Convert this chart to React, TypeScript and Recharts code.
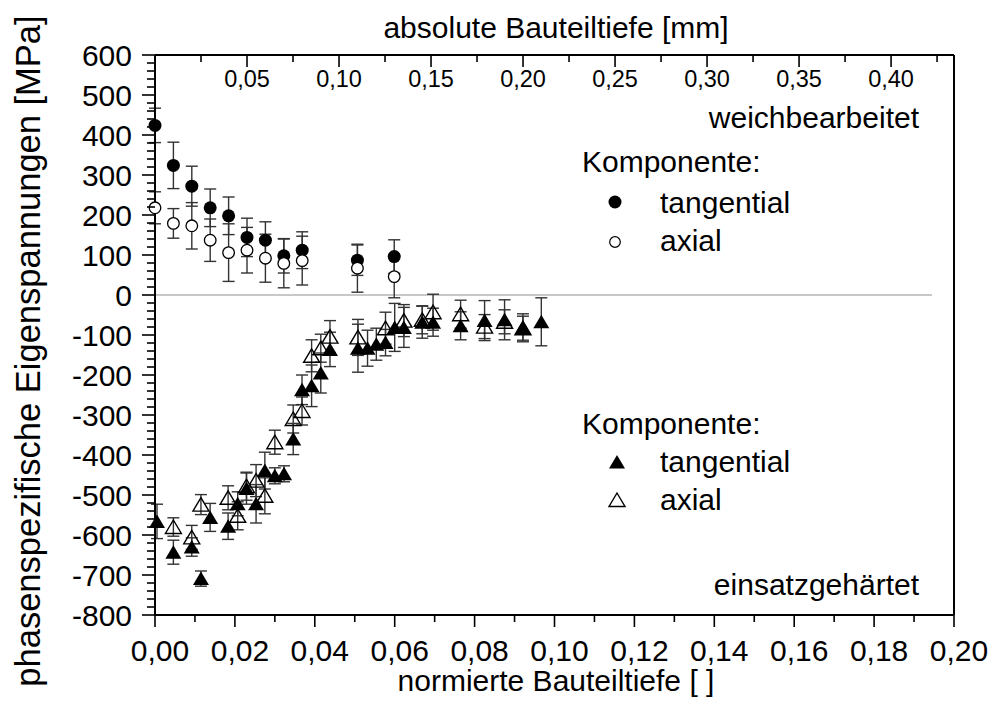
import React from "react";
import { ScatterChart, Scatter, XAxis, YAxis, ErrorBar, ReferenceLine } from "recharts";

const FONT = "'Liberation Sans', Arial, sans-serif";

// weichbearbeitet (Kreise) – x in mm, obere Achse
const softDepthMm = [0, 0.01, 0.02, 0.03, 0.04, 0.05, 0.06, 0.07, 0.08, 0.11, 0.13];
const softTang = [424, 324, 272, 218, 198, 144, 137, 98, 112, 87, 96];
const softTangErr = [43, 58, 50, 47, 47, 48, 46, 43, 46, 38, 42];
const softAxial = [218, 179, 173, 137, 106, 112, 92, 79, 86, 67, 46];
const softAxialErr = [40, 37, 58, 53, 72, 57, 60, 61, 61, 60, 53];

// einsatzgehärtet (Dreiecke) – normierte Tiefe, untere Achse
const hardTangDepth = [
  0.0005, 0.0046, 0.0092, 0.0115, 0.0138, 0.0183, 0.0207, 0.0229, 0.0253, 0.0275,
  0.03, 0.0323, 0.0346, 0.0368, 0.0392, 0.0415, 0.0438, 0.0508, 0.0532, 0.0554,
  0.0577, 0.06, 0.0623, 0.0669, 0.0696, 0.0765, 0.0825, 0.0875, 0.0921, 0.0967,
];
const hardTang = [
  -566, -643, -630, -709, -556, -578, -522, -484, -522, -439,
  -452, -447, -360, -237, -227, -195, -136, -133, -133, -123,
  -119, -81, -81, -68, -68, -77, -64, -62, -82, -67,
];
const hardTangErr = [
  43, 30, 23, 19, 35, 33, 30, 39, 48, 46,
  20, 20, 39, 37, 52, 50, 43, 60, 45, 40,
  33, 60, 50, 40, 35, 35, 50, 50, 35, 60,
];
const hardAxialDepth = [
  0.0046, 0.0092, 0.0115, 0.0183, 0.0207, 0.0229, 0.0253, 0.0275, 0.03, 0.0346,
  0.0368, 0.0392, 0.0415, 0.0438, 0.0508, 0.0577, 0.0623, 0.0669, 0.0696, 0.0765,
  0.0825, 0.0875, 0.0921,
];
const hardAxial = [
  -580, -606, -524, -507, -552, -478, -464, -502, -368, -310,
  -290, -152, -133, -104, -106, -83, -64, -62, -43, -48,
  -79, -67, -83,
];
const hardAxialErr = [
  23, 30, 25, 30, 35, 35, 40, 45, 30, 35,
  35, 40, 35, 40, 45, 40, 40, 35, 45, 35,
  30, 30, 30,
];

// Achsen
const yMajor = [-800, -700, -600, -500, -400, -300, -200, -100, 0, 100, 200, 300, 400, 500, 600];
const xMajor = [0, 0.02, 0.04, 0.06, 0.08, 0.1, 0.12, 0.14, 0.16, 0.18, 0.2];
const mmMajor = [0, 0.05, 0.1, 0.15, 0.2, 0.25, 0.3, 0.35, 0.4];
const mmMax = 0.4342;
const zeroLineEnd = 0.1945;

// majors plus n-1 minor ticks between each pair
const withMinor = (major: number[], n: number) => {
  const out: number[] = [];
  major.forEach((v, i) => {
    out.push(v);
    if (i < major.length - 1) {
      const step = (major[i + 1] - v) / n;
      for (let k = 1; k < n; k++) out.push(+(v + k * step).toFixed(6));
    }
  });
  return out;
};
const yTicks = withMinor(yMajor, 5);
const xTicks = withMinor(xMajor, 2);
const mmTicks = [...withMinor(mmMajor, 2), 0.425];

const zip = (xs: number[], ys: number[], es: number[]) => xs.map((x, i) => ({ x, y: ys[i], err: es[i] }));
const softTangData = zip(softDepthMm, softTang, softTangErr);
const softAxialData = zip(softDepthMm, softAxial, softAxialErr);
const hardTangData = zip(hardTangDepth, hardTang, hardTangErr);
const hardAxialData = zip(hardAxialDepth, hardAxial, hardAxialErr);

const isMult = (v: number, step: number) => Math.abs(v / step - Math.round(v / step)) < 1e-6;
const comma = (v: number) => v.toFixed(2).replace(".", ",");

const LeftTick = ({ x, y, payload }: any) => {
  const major = isMult(payload.value, 100);
  return (
    <g>
      <line x1={x - (major ? 13 : 8)} x2={x} y1={y} y2={y} stroke="#000" strokeWidth={1.6} />
      {major && (
        <text x={x - 23} y={y} dy={10.5} textAnchor="end" fontSize={30} fontFamily={FONT} fill="#000">
          {payload.value}
        </text>
      )}
    </g>
  );
};

const RightTick = ({ x, y, payload }: any) => {
  const major = isMult(payload.value, 100);
  return <line x1={x - (major ? 11 : 6)} x2={x} y1={y} y2={y} stroke="#000" strokeWidth={1.6} />;
};

const BottomTick = ({ x, y, payload }: any) => {
  const major = isMult(payload.value, 0.02);
  return (
    <g>
      <line x1={x} x2={x} y1={y} y2={y + (major ? 12 : 7)} stroke="#000" strokeWidth={1.6} />
      {major && (
        <text x={x + 5} y={y + 46} textAnchor="middle" fontSize={30} fontFamily={FONT} fill="#000">
          {comma(payload.value)}
        </text>
      )}
    </g>
  );
};

const TopTick = ({ x, y, payload }: any) => {
  const major = isMult(payload.value, 0.05);
  return (
    <g>
      <line x1={x} x2={x} y1={y} y2={y + (major ? 12 : 7)} stroke="#000" strokeWidth={1.6} />
      {major && payload.value > 0 && (
        <text x={x} y={y + 31.5} textAnchor="middle" fontSize={23.5} fontFamily={FONT} fill="#000">
          {comma(payload.value)}
        </text>
      )}
    </g>
  );
};

const filledCircle = (p: any) => <circle cx={p.cx} cy={p.cy} r={6.5} fill="#000" />;
const openCircle = (p: any) => <circle cx={p.cx} cy={p.cy} r={5.8} fill="#fff" stroke="#000" strokeWidth={1.3} />;
const triPoints = (cx: number, cy: number) => `${cx},${cy - 7} ${cx - 8},${cy + 6.5} ${cx + 8},${cy + 6.5}`;
const filledTri = (p: any) => <polygon points={triPoints(p.cx, p.cy)} fill="#000" />;
const openTri = (p: any) => (
  <polygon points={triPoints(p.cx, p.cy)} fill="none" stroke="#000" strokeWidth={1.4} strokeLinejoin="miter" />
);

const txt = { fontFamily: FONT, fontSize: 30, fill: "#000" };

export default function App() {
  const axisLine = { stroke: "#000", strokeWidth: 2 };
  const errStyle = { stroke: "#333", strokeWidth: 1.4 };
  return (
    <div style={{ position: "absolute", left: 0, top: 0, width: 996, height: 715, background: "#fff" }}>
      <ScatterChart width={996} height={715} margin={{ top: 54, right: 41, bottom: 0, left: 0 }}>
        <XAxis
          xAxisId="bottom"
          dataKey="x"
          type="number"
          domain={[0, 0.2]}
          ticks={xTicks}
          interval={0}
          height={100}
          tickSize={0}
          tickMargin={0}
          axisLine={axisLine}
          tickLine={false}
          tick={<BottomTick />}
        />
        <XAxis
          xAxisId="top"
          orientation="top"
          dataKey="x"
          type="number"
          domain={[0, mmMax]}
          ticks={mmTicks}
          interval={0}
          height={1}
          tickSize={0}
          tickMargin={0}
          axisLine={axisLine}
          tickLine={false}
          tick={<TopTick />}
        />
        <YAxis
          yAxisId="left"
          dataKey="y"
          type="number"
          domain={[-800, 600]}
          ticks={yTicks}
          interval={0}
          width={155}
          tickSize={0}
          tickMargin={0}
          axisLine={axisLine}
          tickLine={false}
          tick={<LeftTick />}
        />
        <YAxis
          yAxisId="right"
          orientation="right"
          type="number"
          domain={[-800, 600]}
          ticks={yTicks}
          interval={0}
          width={1}
          tickSize={0}
          tickMargin={0}
          axisLine={axisLine}
          tickLine={false}
          tick={<RightTick />}
        />
        <ReferenceLine
          xAxisId="bottom"
          yAxisId="left"
          segment={[
            { x: 0, y: 0 },
            { x: zeroLineEnd, y: 0 },
          ]}
          stroke="#c8c8c8"
          strokeWidth={2}
        />
        <Scatter data={softTangData} xAxisId="top" yAxisId="left" shape={filledCircle} isAnimationActive={false}>
          <ErrorBar dataKey="err" direction="y" width={6} {...errStyle} />
        </Scatter>
        <Scatter data={softAxialData} xAxisId="top" yAxisId="left" shape={openCircle} isAnimationActive={false}>
          <ErrorBar dataKey="err" direction="y" width={6} {...errStyle} />
        </Scatter>
        <Scatter data={hardTangData} xAxisId="bottom" yAxisId="left" shape={filledTri} isAnimationActive={false}>
          <ErrorBar dataKey="err" direction="y" width={6} {...errStyle} />
        </Scatter>
        <Scatter data={hardAxialData} xAxisId="bottom" yAxisId="left" shape={openTri} isAnimationActive={false}>
          <ErrorBar dataKey="err" direction="y" width={6} {...errStyle} />
        </Scatter>
      </ScatterChart>

      <svg width={996} height={715} style={{ position: "absolute", left: 0, top: 0, pointerEvents: "none" }}>
        <text x={556} y={38} textAnchor="middle" {...txt}>absolute Bauteiltiefe [mm]</text>
        <text x={556} y={691} textAnchor="middle" {...txt}>normierte Bauteiltiefe [ ]</text>
        <text x={40} y={351} textAnchor="middle" transform="rotate(-90 40 351)" {...txt} fontSize={34.5}>
          phasenspezifische Eigenspannungen [MPa]
        </text>

        <text x={919} y={128} textAnchor="end" {...txt}>weichbearbeitet</text>
        <text x={582} y={172} {...txt}>Komponente:</text>
        <circle cx={615} cy={202} r={6.5} fill="#000" />
        <text x={660} y={213} {...txt}>tangential</text>
        <circle cx={615} cy={242} r={5.3} fill="#fff" stroke="#000" strokeWidth={1.2} />
        <text x={660} y={251} {...txt}>axial</text>

        <text x={582} y={434} {...txt}>Komponente:</text>
        <polygon points={triPoints(617, 462)} fill="#000" />
        <text x={660} y={472} {...txt}>tangential</text>
        <polygon points={triPoints(617, 500)} fill="none" stroke="#000" strokeWidth={1.4} />
        <text x={660} y={510} {...txt}>axial</text>

        <text x={919} y={595} textAnchor="end" {...txt}>einsatzgehärtet</text>
      </svg>
    </div>
  );
}
